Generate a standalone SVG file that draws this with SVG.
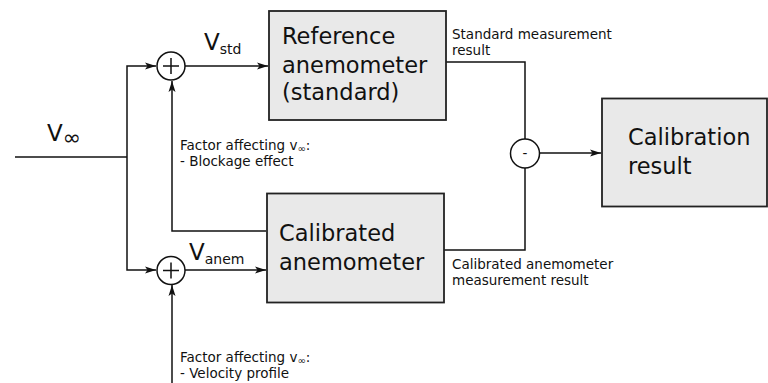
<svg xmlns="http://www.w3.org/2000/svg" width="768" height="383" viewBox="0 0 768 383">
  <style>
    .box { fill: #e9e9e9; stroke: #222; stroke-width: 1.8; }
    .sum { fill: #fff; stroke: #111; stroke-width: 1.5; }
    .wire { fill: none; stroke: #111; stroke-width: 1.5; }
    .big { font-family: "DejaVu Sans", Verdana, sans-serif; font-size: 22.5px; fill: #111; }
    .sig { font-family: "DejaVu Sans", Verdana, sans-serif; font-size: 23px; fill: #111; }
    .sub { font-size: 14px; }
    .inf { font-size: 22px; }
    .note { font-family: "DejaVu Sans", Verdana, sans-serif; font-size: 13.5px; fill: #111; }
    .tiny { font-size: 10px; }
  </style>
  <defs>
    <marker id="arrow" markerUnits="userSpaceOnUse" markerWidth="12" markerHeight="8" refX="11" refY="4" orient="auto">
      <path d="M0,0.5 L11,4 L0,7.5 L2.5,4 Z" fill="#111"/>
    </marker>
  </defs>

  <!-- connectors -->
  <g id="connectors">
    <!-- free-stream input and split -->
    <polyline class="wire" points="15,157 127,157"/>
    <polyline class="wire" points="127,157 127,66 156,66" marker-end="url(#arrow)"/>
    <polyline class="wire" points="127,157 127,270 156,270" marker-end="url(#arrow)"/>
    <!-- summing junctions to anemometers -->
    <polyline class="wire" points="185,66 268,66" marker-end="url(#arrow)"/>
    <polyline class="wire" points="185,270 266,270" marker-end="url(#arrow)"/>
    <!-- blockage effect feedback -->
    <polyline class="wire" points="266,231 172,231 172,81" marker-end="url(#arrow)"/>
    <!-- velocity profile input -->
    <polyline class="wire" points="172,383 172,285" marker-end="url(#arrow)"/>
    <!-- measurement results into the difference junction -->
    <polyline class="wire" points="446,62 525,62 525,139"/>
    <polyline class="wire" points="444,250 525,250 525,168"/>
    <polyline class="wire" points="539,153 601,153" marker-end="url(#arrow)"/>
  </g>

  <!-- signal labels -->
  <g id="labels">
    <text class="sig" x="47" y="141">V<tspan class="inf" dy="4">∞</tspan></text>
    <text class="sig" x="204" y="50">V<tspan class="sub" dy="4">std</tspan></text>
    <text class="sig" x="189" y="260">V<tspan class="sub" dy="4">anem</tspan></text>
    <text class="note" x="180" y="150">Factor affecting v<tspan class="tiny" dy="2">∞</tspan><tspan dy="-2">:</tspan></text>
    <text class="note" x="180" y="166">- Blockage effect</text>
    <text class="note" x="180" y="362">Factor affecting v<tspan class="tiny" dy="2">∞</tspan><tspan dy="-2">:</tspan></text>
    <text class="note" x="180" y="378">- Velocity profile</text>
    <text class="note" x="452" y="38.5">Standard measurement</text>
    <text class="note" x="452" y="55">result</text>
    <text class="note" x="452" y="269">Calibrated anemometer</text>
    <text class="note" x="452" y="285">measurement result</text>
  </g>

  <!-- summing junction, reference branch -->
  <g id="sum-std">
    <circle class="sum" cx="171" cy="66" r="14"/>
    <path class="wire" d="M163,66 H179 M171,58 V74"/>
  </g>

  <!-- summing junction, calibrated branch -->
  <g id="sum-anem">
    <circle class="sum" cx="171" cy="270.5" r="14"/>
    <path class="wire" d="M163,270.5 H179 M171,262.5 V278.5"/>
  </g>

  <!-- difference junction -->
  <g id="diff">
    <circle class="sum" cx="525" cy="153.5" r="14.5"/>
    <text class="note" x="525" y="158" text-anchor="middle" font-size="15px">-</text>
  </g>

  <g id="reference-anemometer">
    <rect class="box" x="269" y="11" width="177" height="109"/>
    <text class="big" x="282" y="44">Reference</text>
    <text class="big" x="282" y="72.5">anemometer</text>
    <text class="big" x="282" y="100">(standard)</text>
  </g>

  <g id="calibrated-anemometer">
    <rect class="box" x="267" y="193.5" width="177" height="109"/>
    <text class="big" x="279" y="241">Calibrated</text>
    <text class="big" x="279" y="270">anemometer</text>
  </g>

  <g id="calibration-result">
    <rect class="box" x="602" y="98.5" width="165" height="108"/>
    <text class="big" x="628" y="144.5">Calibration</text>
    <text class="big" x="628" y="174">result</text>
  </g>
</svg>
